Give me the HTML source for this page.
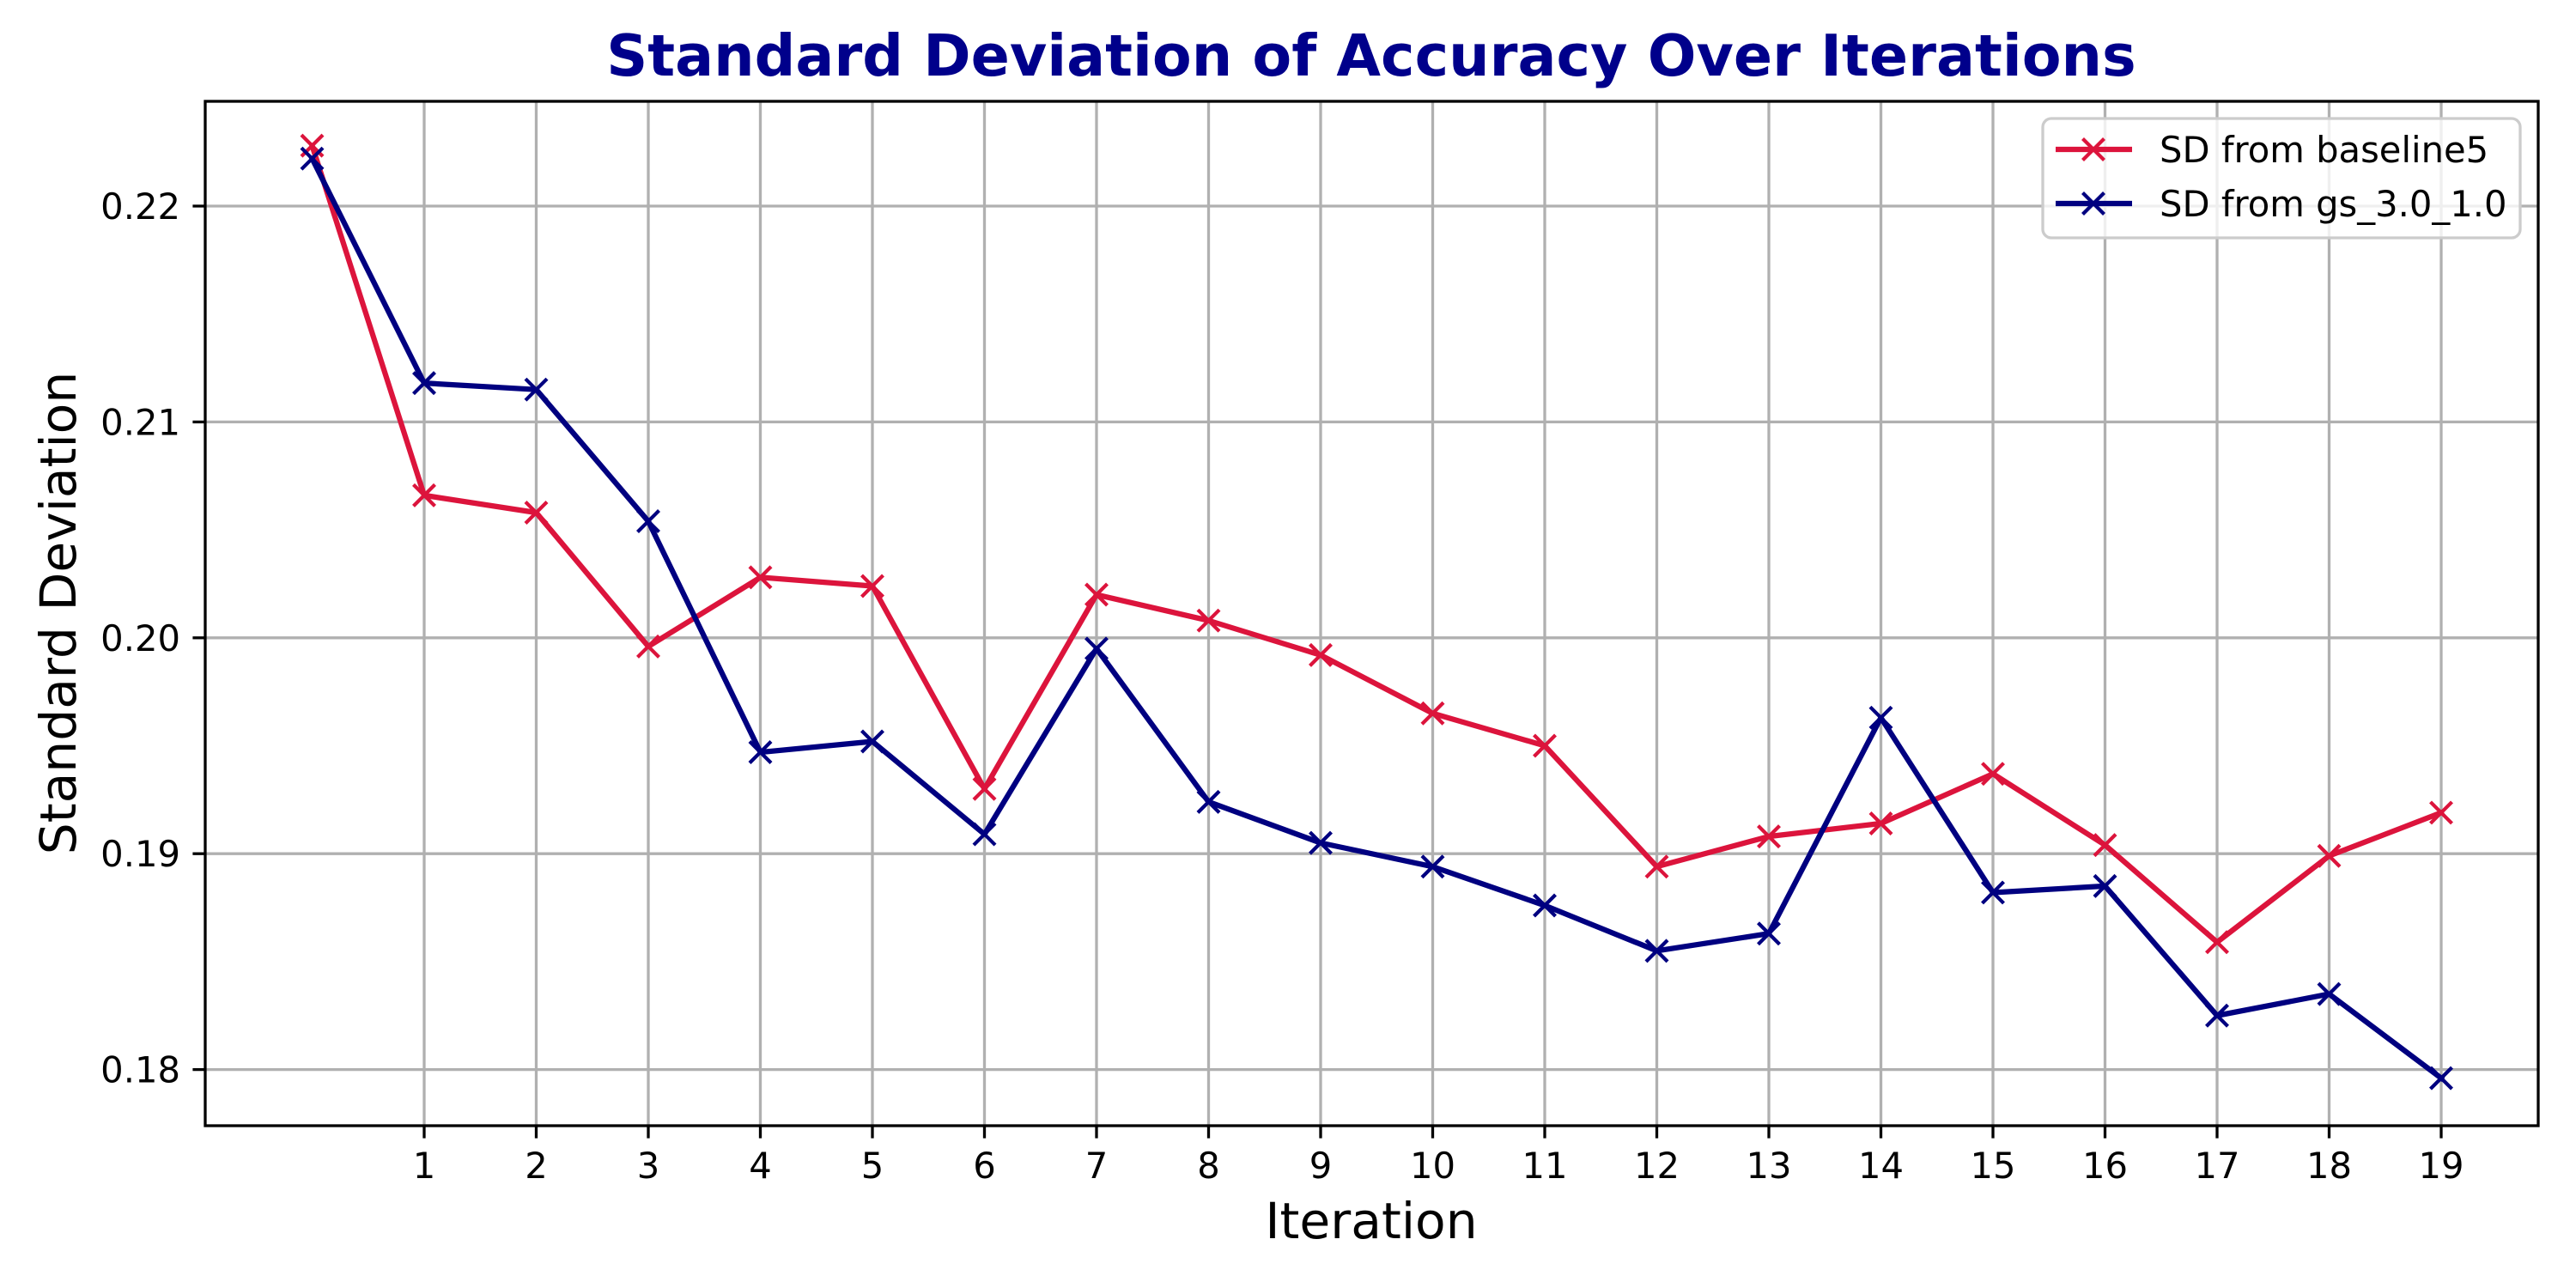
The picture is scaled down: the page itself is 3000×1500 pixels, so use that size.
<!DOCTYPE html>
<html><head><meta charset="utf-8"><style>
html,body{margin:0;padding:0;background:#fff;}
svg{display:block;font-family:"DejaVu Sans","Liberation Sans",sans-serif;}
</style></head><body>
<svg id="chart" width="3000" height="1500" viewBox="0 0 3000 1500" xmlns="http://www.w3.org/2000/svg">
<rect width="3000" height="1500" fill="#fff"/>
<g id="grid"></g>
<g id="series"></g>
<g id="axes"></g>
<text x="1597" y="88" text-anchor="middle" font-size="66.7" font-weight="bold" fill="#00008B">Standard Deviation of Accuracy Over Iterations</text>
<text x="1597" y="1442" text-anchor="middle" font-size="58.3" fill="#000">Iteration</text>
<text x="0" y="0" transform="translate(88,714) rotate(-90)" text-anchor="middle" font-size="58.3" fill="#000">Standard Deviation</text>
<g id="legend"></g>
</svg>
<script>
const iterations = [0,1,2,3,4,5,6,7,8,9,10,11,12,13,14,15,16,17,18,19];
const baseline5 = [0.2228,0.2066,0.2058,0.1996,0.2028,0.2024,0.1930,0.2020,0.2008,0.1992,0.1965,0.1950,0.1894,0.1908,0.1914,0.1937,0.1904,0.1859,0.1899,0.1919];
const gs30 = [0.2222,0.2118,0.2115,0.2054,0.1947,0.1952,0.1909,0.1995,0.1924,0.1905,0.1894,0.1876,0.1855,0.1863,0.1963,0.1882,0.1885,0.1825,0.1835,0.1796];
const xTicks = [1,2,3,4,5,6,7,8,9,10,11,12,13,14,15,16,17,18,19];
const yTicks = [0.18,0.19,0.20,0.21,0.22];
const yTickLabels = ["0.18","0.19","0.20","0.21","0.22"];
const seriesNames = ["SD from baseline5","SD from gs_3.0_1.0"];

const NS="http://www.w3.org/2000/svg";
const L=239,R=2956,T=118,B=1311;
function xs(v){return 363.5+v*130.5;}
function ys(v){return 240+(0.22-v)*25140;}
function mk(tag,attrs,parent){const e=document.createElementNS(NS,tag);for(const k in attrs)e.setAttribute(k,attrs[k]);parent.appendChild(e);return e;}
const grid=document.getElementById('grid'),axes=document.getElementById('axes'),ser=document.getElementById('series'),leg=document.getElementById('legend');

xTicks.forEach(t=>{
  const g=mk('line',{x1:xs(t),x2:xs(t),y1:T,y2:B,stroke:'#b0b0b0','stroke-width':3.3},grid);
  
  
  const tk=mk('line',{x1:xs(t),x2:xs(t),y1:B,y2:B+14.6,stroke:'#000','stroke-width':3.3},axes);
  
  
  const tx=mk('text',{x:xs(t),y:B+61,'text-anchor':'middle','font-size':41.7,fill:'#000'},axes);
  tx.textContent=t;
  
  
});
yTicks.forEach((t,i)=>{
  const g=mk('line',{x1:L,x2:R,y1:ys(t),y2:ys(t),stroke:'#b0b0b0','stroke-width':3.3},grid);
  
  
  const tk=mk('line',{x1:L-14.6,x2:L,y1:ys(t),y2:ys(t),stroke:'#000','stroke-width':3.3},axes);
  
  
  const tx=mk('text',{x:L-29,y:ys(t)+15,'text-anchor':'end','font-size':41.7,fill:'#000'},axes);
  tx.textContent=yTickLabels[i];
  
  
});
const frame=mk('rect',{x:L,y:T,width:R-L,height:B-T,fill:'none',stroke:'#000','stroke-width':3.3},axes);



function xMark(cx,cy,color,parent){
  const s=12.5;
  const p=mk('path',{d:`M${cx-s},${cy-s}L${cx+s},${cy+s}M${cx-s},${cy+s}L${cx+s},${cy-s}`,stroke:color,'stroke-width':4.2,fill:'none'},parent);
  return p;
}
function drawSeries(vals,color,name){
  const pts=vals.map((v,i)=>xs(iterations[i])+','+ys(v)).join(' ');
  const pl=mk('polyline',{points:pts,fill:'none',stroke:color,'stroke-width':6.25,'stroke-linejoin':'round','stroke-linecap':'square'},ser);
  
  
  vals.forEach((v,i)=>{
    const m=xMark(xs(iterations[i]),ys(v),color,ser);
    
    
  });
}
drawSeries(baseline5,'#DC143C','baseline5');
drawSeries(gs30,'#000080','gs30');

const box=mk('rect',{x:2379,y:138,width:556,height:139,rx:10,fill:'#fff','fill-opacity':0.8,stroke:'#cccccc','stroke-width':3.3},leg);


[['#DC143C',174],['#000080',237]].forEach((c,i)=>{
  const ln=mk('line',{x1:2394,x2:2483,y1:c[1],y2:c[1],stroke:c[0],'stroke-width':6.25},leg);
  
  
  const m=xMark(2438,c[1],c[0],leg);
  
  
  const tx=mk('text',{x:2515,y:c[1]+15,'font-size':41.7,fill:'#000'},leg);
  tx.textContent=seriesNames[i];
  
  
});
</script>
</body></html>
